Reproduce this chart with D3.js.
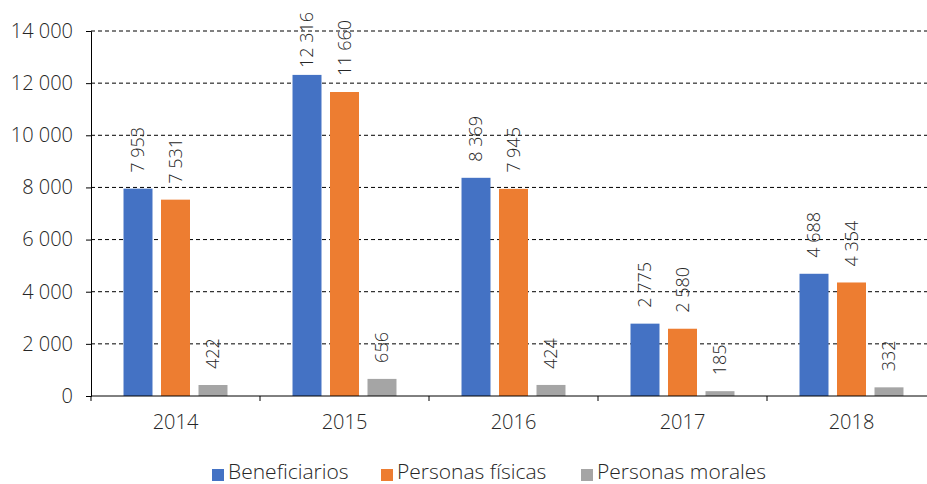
<!DOCTYPE html>
<html><head><meta charset="utf-8">
<script src="https://cdn.jsdelivr.net/npm/d3@7"></script>
<style>body{margin:0;background:#fff}svg{display:block}svg text{font-family:"Open Sans",sans-serif;font-weight:300}</style>
</head><body><svg id="c" width="927" height="484"></svg>
<script>
const categories = ["2014","2015","2016","2017","2018"];
const seriesNames = ["Beneficiarios","Personas físicas","Personas morales"];
const beneficiarios = [7953,12316,8369,2775,4688];
const personasFisicas = [7531,11660,7945,2580,4354];
const personasMorales = [422,656,424,185,332];
const yTicks = [0,2000,4000,6000,8000,10000,12000,14000];
const colors = ["#4472C4","#ED7D31","#A5A5A5"];
const series = [beneficiarios, personasFisicas, personasMorales];

const svg = d3.select("#c");
const mLeft = 91, mRight = 936, mTop = 31, mBottom = 396;
const x = d3.scaleBand().domain(categories).range([mLeft,mRight]);
const inner = d3.scaleBand().domain(seriesNames).range([0, x.bandwidth()]).paddingInner(0.227).paddingOuter(0.867);
const y = d3.scaleLinear().domain([0,14000]).range([mBottom,mTop]);
const fmt = v => d3.format(",")(v).replace(/,/g," ");
const txt = "#262626";

svg.append("g").selectAll("line").data(yTicks.filter(d=>d>0)).join("line")
  .attr("x1",mLeft).attr("x2",mRight).attr("y1",d=>y(d)).attr("y2",d=>y(d))
  .attr("stroke","#000").attr("stroke-width",1).attr("stroke-dasharray","4,3");

const ya = svg.append("g").attr("transform",`translate(${mLeft},0)`)
  .call(d3.axisLeft(y).tickValues(yTicks).tickSize(5).tickPadding(13).tickFormat(fmt));
ya.select(".domain").attr("stroke","#000");
ya.selectAll(".tick line").attr("stroke","#000");
ya.selectAll("text").attr("font-size",20).attr("fill",txt);

series.forEach((vals,si)=>{
  const g = svg.append("g");
  g.selectAll("rect").data(categories).join("rect")
    .attr("x",(c)=>x(c)+inner(seriesNames[si]))
    .attr("width",inner.bandwidth())
    .attr("y",(c,i)=>y(vals[i]))
    .attr("height",(c,i)=>mBottom-y(vals[i]))
    .attr("fill",colors[si]);
  g.selectAll("text").data(categories).join("text")
    .attr("dy","0.35em").attr("text-anchor","start")
    .attr("font-size",18).attr("fill",txt)
    .text((c,i)=>fmt(vals[i]))
    .each(function(c,i){
      const len = this.getComputedTextLength();
      const sy = Math.max(y(vals[i])-16, 12 + len);
      d3.select(this).attr("transform",`translate(${x(c)+inner(seriesNames[si])+inner.bandwidth()/2},${sy}) rotate(-90)`);
    });
});

const xa = svg.append("g").attr("transform",`translate(0,${mBottom})`)
  .call(d3.axisBottom(x).tickSize(0).tickPadding(19));
xa.select(".domain").remove();
xa.selectAll("text").attr("font-size",20).attr("fill",txt);
svg.append("line").attr("x1",mLeft).attr("x2",mRight).attr("y1",mBottom).attr("y2",mBottom).attr("stroke","#000");
svg.append("g").selectAll("line").data(categories).join("line")
  .attr("x1",c=>x(c)).attr("x2",c=>x(c)).attr("y1",mBottom).attr("y2",mBottom+5).attr("stroke","#000");

const legX = [212, 381, 581];
const lg = svg.append("g");
seriesNames.forEach((n,i)=>{
  lg.append("rect").attr("x",legX[i]).attr("y",469).attr("width",12).attr("height",12).attr("fill",colors[i]);
  lg.append("text").attr("x",legX[i]+16).attr("y",479).attr("font-size",21).attr("fill",txt).text(n);
});
</script></body></html>
